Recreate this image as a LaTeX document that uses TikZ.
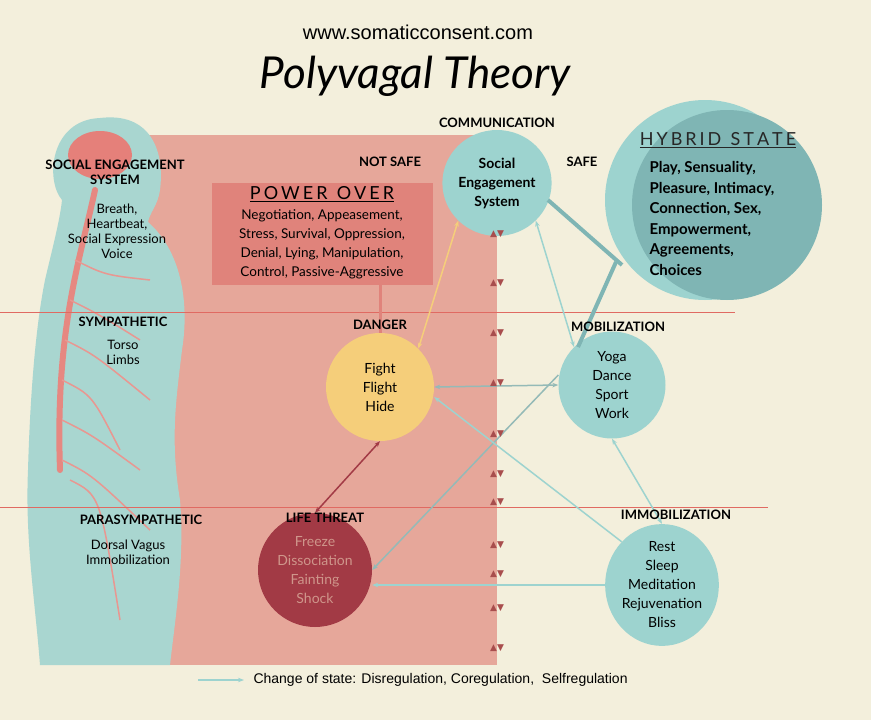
\documentclass[tikz,border=0pt]{standalone}
\usepackage{fontspec}
\setmainfont{Lato}
\newfontfamily\symf{DejaVu Sans}
\newfontfamily\urlf{Liberation Sans}
\usetikzlibrary{arrows.meta,shapes.geometric}
\definecolor{cream}{HTML}{F3EFDC}
\definecolor{pinkbg}{HTML}{E6A79A}
\definecolor{boxred}{HTML}{E0837B}
\definecolor{teal1}{HTML}{9DD3CF}
\definecolor{teal2}{HTML}{7FB5B4}
\definecolor{yel}{HTML}{F5CE7A}
\definecolor{dred}{HTML}{A23A45}
\definecolor{mark}{HTML}{A84D4D}
\definecolor{lred}{HTML}{E06A62}
\definecolor{body}{HTML}{A9D6D0}
\tikzset{
 lab/.style={font=\bfseries\fontsize{13}{15}\selectfont,align=center},
 sub/.style={font=\fontsize{13}{15}\selectfont,align=center},
 circ/.style={ellipse,minimum width=#1,minimum height=#1,inner sep=0pt,align=center,font=\fontsize{14}{19}\selectfont},
 conn/.style={draw=teal1,line width=1.5pt,{Stealth[length=6pt]}-{Stealth[length=6pt]}},
 onew/.style={draw=teal1,line width=1.5pt,-{Stealth[length=6pt]}},
 thick2/.style={draw=teal2,line width=4pt},
 mk/.style={font=\symf\fontsize{9}{9}\selectfont,text=mark,inner sep=0pt}
}
\begin{document}
\begin{tikzpicture}[x=1pt,y=-1pt]
\fill[cream] (0,0) rectangle (871,720);
\useasboundingbox (0,0) rectangle (871,720);
\fill[pinkbg] (140,135) rectangle (497,665);
% body
\fill[body] (100,118) .. controls (150,112) and (165,150) .. (160,190)
 .. controls (158,205) and (150,212) .. (148,222)
 .. controls (180,250) and (190,300) .. (182,350)
 .. controls (176,400) and (170,440) .. (180,500)
 .. controls (185,560) and (175,620) .. (170,665)
 -- (40,665) .. controls (35,600) and (25,540) .. (28,470)
 .. controls (30,400) and (35,330) .. (45,280)
 .. controls (52,250) and (60,220) .. (62,200)
 .. controls (45,180) and (50,120) .. (100,118) -- cycle;
\fill[lred!85] (100,155) ellipse (32 and 24);
\draw[lred!80,line width=6pt,line cap=round] (95,190) .. controls (80,260) and (55,330) .. (60,470);
\foreach \a/\b/\c/\d in {75/260/150/280, 70/300/140/340, 65/340/150/400, 62/380/120/450, 62/420/140/470, 62/460/150/530, 70/480/120/620}
 \draw[lred!70,line width=1.5pt] (\a,\b) .. controls (\a+30,\b+15) .. (\c,\d);
% lines
\draw[lred,line width=0.8pt] (0,312) -- (735,312);
\draw[lred,line width=0.8pt] (0,507) -- (768,507);
% title
\node[font=\urlf\fontsize{20}{22}\selectfont] (url) at (418,32) {www.somaticconsent.com};
\node[font=\itshape\fontsize{44}{46}\selectfont] (title) at (415,76) {Polyvagal Theory};
% hybrid
\fill[teal1] (705,200) circle (100);
\node[circ=190pt,fill=teal2] (hyb) at (727,205) {};
\node[font=\fontsize{18}{20}\selectfont,text=black!85] (hybt) at (718,140) {\underline{H\,Y\,B\,R\,I\,D\ \ S\,T\,A\,T\,E}};
\node[font=\bfseries\fontsize{15}{20.5}\selectfont,align=left,anchor=north west] (hybl) at (646,158) {Play, Sensuality,\\Pleasure, Intimacy,\\Connection, Sex,\\Empowerment,\\Agreements,\\Choices};
% power over
\node[fill=boxred,minimum width=221pt,minimum height=102pt] (po) at (322,234) {};
\node[font=\fontsize{18}{20}\selectfont] (pot) at (322,194) {\underline{P\,O\,W\,E\,R\ \ O\,V\,E\,R}};
\node[sub,font=\fontsize{13.5}{19}\selectfont] (pol) at (322,244) {Negotiation, Appeasement,\\Stress, Survival, Oppression,\\Denial, Lying, Manipulation,\\Control, Passive-Aggressive};
% circles
\node[circ=106pt,fill=teal1,font=\bfseries\fontsize{14}{19}\selectfont] (ses) at (497,183) {Social\\Engagement\\System};
\node[circ=108pt,fill=yel] (fight) at (380,387) {Fight\\Flight\\Hide};
\node[circ=114pt,fill=dred,text=pinkbg!90!black] (frz) at (315,570) {Freeze\\Dissociation\\Fainting\\Shock};
\node[circ=107pt,fill=teal1] (yoga) at (612,385) {Yoga\\Dance\\Sport\\Work};
\node[circ=106pt,fill=teal1] (rest) at (662,585) {Rest\\Sleep\\Meditation\\Rejuvenation\\Bliss};
% connectors
\coordinate (pob) at (380,285);
\begin{scope}[on background layer/.try]
\end{scope}
\coordinate (s1) at (548,200);
\coordinate (h1) at (622,265);
\coordinate (h2) at (616,262);
\coordinate (yt) at (578,347);
\draw[boxred,line width=3pt] (pob) -- (fight.north);
\draw[thick2] (s1) -- (h1);
\draw[thick2] (h2) -- (yt);
\draw[conn,draw=yel] (fight.north east) -- (ses.south west);
\draw[conn,draw=dred] (frz.north) -- (fight.south);
\draw[conn] (ses.south east) -- (yoga.north west);
\draw[conn,draw=teal1!70!gray] (fight.east) -- (yoga.west);
\coordinate (y2) at ([yshift=10pt]yoga.west);
\coordinate (f2) at ([yshift=-10pt]fight.east);
\draw[onew,draw=teal1!70!gray] (y2) -- (frz.east);
\draw[onew] (rest.north west) -- (f2);
\draw[onew] (rest.west) -- (frz.east|-rest.west);
\draw[conn] (yoga.south) -- (rest.north);
% labels
\node[lab] (com) at (497,123) {COMMUNICATION};
\node[lab] (ns) at (390,162) {NOT SAFE};
\node[lab] (sf) at (582,162) {SAFE};
\node[lab] (dg) at (380,325) {DANGER};
\node[lab] (mb) at (618,327) {MOBILIZATION};
\node[lab] (lt) at (325,518) {LIFE THREAT};
\node[lab] (im) at (676,515) {IMMOBILIZATION};
\node[lab] (sesl) at (115,172) {SOCIAL ENGAGEMENT\\SYSTEM};
\node[sub] (sesd) at (117,231) {Breath,\\Heartbeat,\\Social Expression\\Voice};
\node[lab] (sym) at (123,322) {SYMPATHETIC};
\node[sub] (symd) at (123,352) {Torso\\Limbs};
\node[lab] (par) at (141,520) {PARASYMPATHETIC};
\node[sub] (pard) at (128,552) {Dorsal Vagus\\Immobilization};
% markers
\foreach \y [count=\i] in {234,283,333,383,434,474,502,545,574,608,648}
 \node[mk] (m\i) at (497,\y) {▲▼};
% legend
\coordinate (la) at (198,680); \coordinate (lb) at (244,680);
\draw[onew] (la) -- (lb);
\node[font=\urlf\fontsize{14}{16}\selectfont,anchor=west] (leg) at (250,680) {Change of state: Disregulation, Coregulation,\ \ Selfregulation};
\end{tikzpicture}
\end{document}
